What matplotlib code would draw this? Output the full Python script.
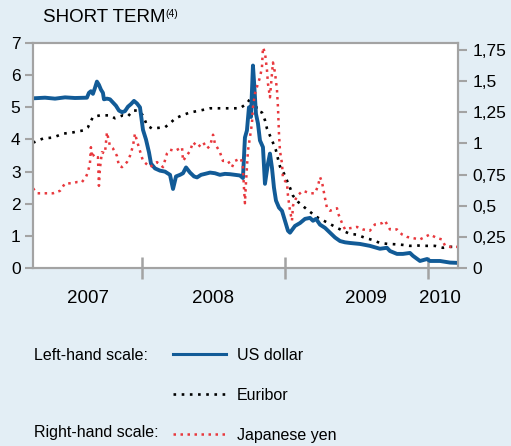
import matplotlib
matplotlib.use('Agg')
import matplotlib.pyplot as plt

plt.rcParams['font.family'] = ['Liberation Sans', 'DejaVu Sans']

# time axis in decimal years
usd_t = [2007.238, 2007.322, 2007.392, 2007.462, 2007.531, 2007.615, 2007.629, 2007.643,
         2007.657, 2007.671, 2007.685, 2007.699, 2007.713, 2007.727, 2007.734, 2007.755,
         2007.776, 2007.797, 2007.818, 2007.839, 2007.860, 2007.881, 2007.902, 2007.923,
         2007.944, 2007.965, 2007.986, 2008.007, 2008.028, 2008.049, 2008.063, 2008.091,
         2008.126, 2008.161, 2008.196, 2008.217, 2008.238, 2008.266, 2008.287, 2008.308,
         2008.336, 2008.364, 2008.385, 2008.413, 2008.441, 2008.476, 2008.510, 2008.545,
         2008.580, 2008.615, 2008.650, 2008.685, 2008.706, 2008.720, 2008.734, 2008.748,
         2008.762, 2008.776, 2008.783, 2008.797, 2008.811, 2008.825, 2008.846, 2008.860,
         2008.881, 2008.895, 2008.909, 2008.923, 2008.937, 2008.958, 2008.979, 2009.000,
         2009.021, 2009.035, 2009.070, 2009.105, 2009.140, 2009.175, 2009.196, 2009.217,
         2009.245, 2009.280, 2009.315, 2009.350, 2009.385, 2009.420, 2009.455, 2009.524,
         2009.594, 2009.664, 2009.713, 2009.734, 2009.783, 2009.825, 2009.874, 2009.895,
         2009.944, 2009.993, 2010.014, 2010.084, 2010.154, 2010.210]
usd_v = [5.28, 5.30, 5.27, 5.31, 5.29, 5.30, 5.45, 5.50,
         5.42, 5.60, 5.80, 5.70, 5.55, 5.45, 5.25, 5.27,
         5.25, 5.15, 5.05, 4.90, 4.85, 4.88, 5.02, 5.10,
         5.20, 5.12, 5.00, 4.30, 4.00, 3.60, 3.25, 3.10,
         3.03, 3.00, 2.90, 2.46, 2.85, 2.90, 2.95, 3.13,
         2.97, 2.85, 2.82, 2.90, 2.93, 2.97, 2.95, 2.90,
         2.93, 2.92, 2.90, 2.88, 2.80, 4.06, 4.28, 5.00,
         4.70, 6.30, 5.84, 4.80, 4.50, 3.97, 3.76, 2.62,
         3.25, 3.56, 3.12, 2.50, 2.10, 1.88, 1.78, 1.47,
         1.16, 1.10, 1.31, 1.40, 1.53, 1.56, 1.47, 1.53,
         1.35, 1.25, 1.10, 0.95, 0.84, 0.80, 0.78, 0.75,
         0.69, 0.60, 0.63, 0.53, 0.44, 0.44, 0.47, 0.38,
         0.22, 0.28, 0.22, 0.22, 0.17, 0.16]

eur_t = [2007.238, 2007.308, 2007.378, 2007.448, 2007.517, 2007.587, 2007.622, 2007.657,
         2007.706, 2007.776, 2007.811, 2007.867, 2007.902, 2007.937, 2007.972, 2008.007,
         2008.035, 2008.070, 2008.112, 2008.161, 2008.196, 2008.231, 2008.280, 2008.336,
         2008.406, 2008.476, 2008.545, 2008.615, 2008.685, 2008.734, 2008.762, 2008.790,
         2008.804, 2008.839, 2008.860, 2008.874, 2008.895, 2008.916, 2008.937, 2008.951,
         2008.965, 2008.993, 2009.014, 2009.035, 2009.056, 2009.091, 2009.133, 2009.175,
         2009.217, 2009.259, 2009.315, 2009.364, 2009.406, 2009.455, 2009.503, 2009.559,
         2009.615, 2009.664, 2009.720, 2009.769, 2009.825, 2009.874, 2009.930, 2009.993,
         2010.049, 2010.105, 2010.154, 2010.210]
eur_v = [3.90, 4.03, 4.06, 4.18, 4.22, 4.28, 4.38, 4.70,
         4.75, 4.75, 4.66, 4.75, 4.72, 4.90, 4.90, 4.75,
         4.44, 4.34, 4.36, 4.38, 4.50, 4.65, 4.75, 4.84,
         4.90, 4.97, 4.97, 4.97, 4.97, 5.12, 5.30, 5.25,
         4.90, 4.84, 4.60, 4.34, 4.12, 3.90, 3.66, 3.40,
         3.16, 2.94, 2.72, 2.50, 2.25, 2.06, 1.90, 1.75,
         1.60, 1.50, 1.37, 1.25, 1.16, 1.06, 1.04, 0.94,
         0.87, 0.78, 0.75, 0.74, 0.72, 0.69, 0.70, 0.69,
         0.69, 0.63, 0.66, 0.66]

jpy_t = [2007.238, 2007.266, 2007.322, 2007.378, 2007.427, 2007.462, 2007.510, 2007.545,
         2007.580, 2007.608, 2007.622, 2007.636, 2007.643, 2007.650, 2007.657, 2007.678,
         2007.692, 2007.699, 2007.706, 2007.720, 2007.741, 2007.755, 2007.776, 2007.797,
         2007.825, 2007.839, 2007.860, 2007.895, 2007.916, 2007.937, 2007.951, 2007.965,
         2007.986, 2008.007, 2008.056, 2008.105, 2008.147, 2008.175, 2008.196, 2008.231,
         2008.280, 2008.287, 2008.336, 2008.357, 2008.392, 2008.427, 2008.455, 2008.476,
         2008.497, 2008.510, 2008.545, 2008.566, 2008.601, 2008.629, 2008.650, 2008.692,
         2008.706, 2008.713, 2008.720, 2008.727, 2008.734, 2008.741, 2008.755, 2008.769,
         2008.776, 2008.790, 2008.811, 2008.825, 2008.839, 2008.846, 2008.860, 2008.874,
         2008.881, 2008.895, 2008.909, 2008.916, 2008.930, 2008.944, 2008.951, 2008.958,
         2008.965, 2008.979, 2008.986, 2009.014, 2009.021, 2009.035, 2009.049, 2009.056,
         2009.084, 2009.126, 2009.175, 2009.210, 2009.231, 2009.245, 2009.259, 2009.280,
         2009.294, 2009.315, 2009.364, 2009.371, 2009.399, 2009.420, 2009.455, 2009.503,
         2009.545, 2009.594, 2009.629, 2009.678, 2009.699, 2009.734, 2009.783, 2009.818,
         2009.853, 2009.895, 2009.944, 2009.979, 2010.014, 2010.063, 2010.098, 2010.119,
         2010.154, 2010.210]
jpy_v = [0.64, 0.60, 0.60, 0.60, 0.62, 0.68, 0.68, 0.69,
         0.69, 0.73, 0.77, 0.84, 0.97, 0.89, 0.91, 0.88,
         0.89, 0.66, 0.80, 0.93, 0.92, 1.09, 0.98, 0.96,
         0.90, 0.82, 0.81, 0.85, 0.90, 0.98, 1.08, 1.02,
         0.94, 0.86, 0.81, 0.85, 0.81, 0.92, 0.95, 0.94,
         0.97, 0.86, 0.94, 1.01, 0.97, 1.01, 0.96, 0.98,
         1.07, 1.00, 0.93, 0.86, 0.86, 0.81, 0.86, 0.88,
         0.81, 0.65, 0.52, 0.68, 0.81, 0.94, 1.05, 1.16,
         1.29, 1.40, 1.48, 1.53, 1.61, 1.77, 1.73, 1.59,
         1.48, 1.37, 1.56, 1.65, 1.57, 1.43, 1.29, 1.08,
         0.94, 0.84, 0.72, 0.68, 0.58, 0.46, 0.38, 0.50,
         0.58, 0.62, 0.60, 0.60, 0.66, 0.73, 0.69, 0.56,
         0.48, 0.46, 0.48, 0.44, 0.36, 0.31, 0.32, 0.33,
         0.31, 0.30, 0.35, 0.36, 0.38, 0.31, 0.31, 0.27,
         0.25, 0.24, 0.23, 0.25, 0.27, 0.24, 0.23, 0.18,
         0.17, 0.17]

year_bounds = [2008, 2009, 2010]
year_label_pos = [2007.622, 2008.5, 2009.566, 2010.084]
year_labels = ['2007', '2008', '2009', '2010']
left_ticks = [0, 1, 2, 3, 4, 5, 6, 7]
right_ticks = [0, 0.25, 0.5, 0.75, 1, 1.25, 1.5, 1.75]
right_labels = ['0', '0,25', '0,5', '0,75', '1', '1,25', '1,5', '1,75']

bg = '#e3eef5'
grey = '#a3a3a3'
blue = '#125b97'
red = '#e8383d'

fig = plt.figure(figsize=(5.11, 4.46), dpi=100, facecolor=bg)
ax = fig.add_axes([0.0646, 0.399, 0.8317, 0.5045])
ax.set_facecolor('white')

l_usd, = ax.plot(usd_t, usd_v, color=blue, lw=2.8, label='US dollar', zorder=3)
l_eur, = ax.plot(eur_t, eur_v, color='black', lw=1.9, dashes=(1, 2.1),
                 label='Euribor', zorder=2)
ax.set_xlim(2007.238, 2010.21)
ax.set_ylim(0, 7)

ax2 = ax.twinx()
l_jpy, = ax2.plot(jpy_t, jpy_v, color=red, lw=1.8, dashes=(1, 1.8),
                  label='Japanese yen')
ax2.set_ylim(0, 1.806)

for a in (ax, ax2):
    for s in a.spines.values():
        s.set_color(grey)
        s.set_linewidth(1.5)

ax.set_yticks(left_ticks)
ax.tick_params(axis='y', direction='out', length=6, width=1.5, color=grey,
               labelsize=12.5, pad=3)
ax2.set_yticks(right_ticks)
ax2.set_yticklabels(right_labels)
ax2.tick_params(axis='y', direction='out', length=6.5, width=1.5, color=grey,
                labelsize=12.5, pad=4)

ax.set_xticks(year_bounds)
ax.set_xticklabels([])
ax.tick_params(axis='x', which='major', direction='inout', length=16, width=1.8,
               color=grey)
ax.set_xticks(year_label_pos, minor=True)
ax.set_xticklabels(year_labels, minor=True)
ax.tick_params(axis='x', which='minor', length=0, labelsize=13.5, pad=15.5)

fig.text(43 / 511, 1 - 22 / 446, 'SHORT TERM', fontsize=13.5, va='baseline')
fig.text(165 / 511, 1 - 17 / 446, '(4)', fontsize=7.5, va='baseline')

fig.text(34 / 511, 1 - 355 / 446, 'Left-hand scale:', fontsize=11.5, va='center')
fig.text(34 / 511, 1 - 433 / 446, 'Right-hand scale:', fontsize=11.5, va='center')
leg = fig.legend(handles=[l_usd, l_eur, l_jpy], loc='upper left',
                 bbox_to_anchor=(173 / 511, 1 - 348 / 446), frameon=False,
                 fontsize=11.5, handlelength=3.3, handletextpad=0.7,
                 labelspacing=1.56, borderpad=0, borderaxespad=0)
leg.legend_handles[0].set_linewidth(2.2)

fig.savefig('out.png', dpi=100, facecolor=bg)
